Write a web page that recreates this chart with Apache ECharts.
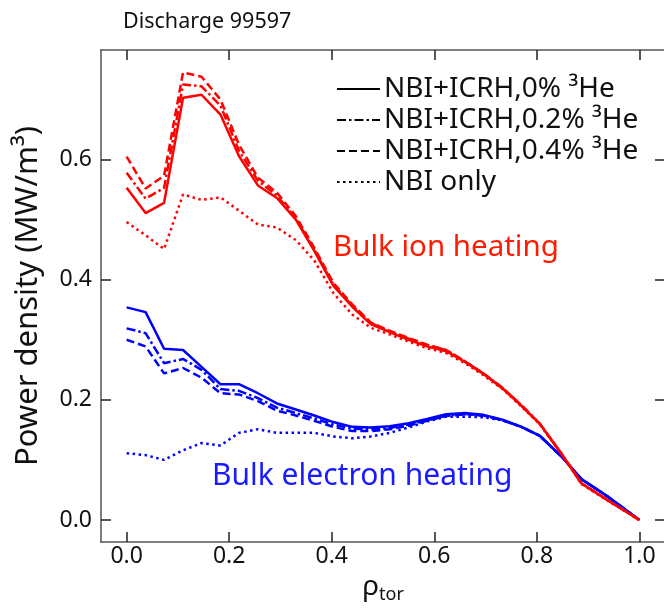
<!DOCTYPE html>
<html><head><meta charset="utf-8">
<script src="https://cdn.jsdelivr.net/npm/echarts@6/dist/echarts.min.js"></script>
<style>html,body{margin:0;padding:0;background:#fff}#c{width:664px;height:608px}</style>
</head><body><div id="c"></div>
<script>
// normalized toroidal radius
const rho = [0, 0.037, 0.073, 0.11, 0.146, 0.183, 0.219, 0.256, 0.293, 0.33, 0.366, 0.403, 0.44, 0.476, 0.513, 0.55, 0.586, 0.623, 0.66, 0.696, 0.733, 0.77, 0.806, 0.85, 0.887, 0.94, 1.0];
// bulk ion heating (MW/m3)
const ion0  = [0.553,0.511,0.528,0.703,0.708,0.675,0.606,0.557,0.536,0.500,0.448,0.390,0.355,0.326,0.313,0.300,0.289,0.281,0.263,0.243,0.219,0.190,0.160,0.108,0.061,0.032,0.0];
const ion02 = [0.578,0.535,0.553,0.725,0.722,0.690,0.615,0.565,0.540,0.502,0.450,0.392,0.357,0.328,0.314,0.302,0.291,0.283,0.264,0.244,0.220,0.191,0.160,0.108,0.061,0.032,0.0];
const ion04 = [0.605,0.552,0.573,0.745,0.738,0.700,0.625,0.570,0.545,0.506,0.453,0.395,0.359,0.329,0.315,0.303,0.292,0.283,0.264,0.244,0.220,0.191,0.160,0.108,0.061,0.032,0.0];
const ionNBI= [0.496,0.474,0.451,0.542,0.533,0.537,0.515,0.492,0.487,0.466,0.432,0.378,0.342,0.320,0.309,0.297,0.286,0.278,0.261,0.241,0.218,0.189,0.159,0.107,0.060,0.031,0.0];
// bulk electron heating (MW/m3)
const el0   = [0.354,0.346,0.285,0.283,0.255,0.226,0.226,0.211,0.194,0.184,0.174,0.163,0.155,0.154,0.156,0.161,0.168,0.176,0.178,0.175,0.167,0.155,0.140,0.104,0.068,0.038,0.0];
const el02  = [0.319,0.311,0.261,0.268,0.250,0.218,0.215,0.203,0.187,0.178,0.169,0.159,0.152,0.151,0.153,0.159,0.166,0.174,0.176,0.174,0.166,0.155,0.140,0.104,0.068,0.038,0.0];
const el04  = [0.300,0.289,0.244,0.253,0.237,0.211,0.209,0.198,0.182,0.174,0.165,0.155,0.148,0.148,0.151,0.157,0.165,0.173,0.176,0.174,0.166,0.155,0.140,0.104,0.068,0.038,0.0];
const elNBI = [0.111,0.108,0.100,0.116,0.128,0.124,0.145,0.151,0.145,0.145,0.145,0.139,0.136,0.139,0.145,0.154,0.164,0.172,0.172,0.171,0.166,0.155,0.140,0.104,0.068,0.038,0.0];
const xTicks = [0, 0.2, 0.4, 0.6, 0.8, 1.0];
const yTicks = [0, 0.2, 0.4, 0.6];
const legendNames = ['NBI+ICRH,0% ³He', 'NBI+ICRH,0.2% ³He', 'NBI+ICRH,0.4% ³He', 'NBI only'];

const FONT = '"Noto Sans", "DejaVu Sans", sans-serif';
const RED = '#ff0000', BLUE = '#0000ff';
const styles = ['solid', [9,3,2.5,3], [8,4], [2.5,3.5]];
const pairs = v => rho.map((x,i)=>[x, v[i]]);

const series = [];
[elNBI, el04, el02, el0].forEach((v,k)=>{
  const idx = 3-k;
  series.push({type:'line', data:pairs(v), symbol:'none', color:BLUE,
    lineStyle:{color:BLUE, width:2.5, type:styles[idx]}, silent:true, z:2});
});
[ionNBI, ion04, ion02, ion0].forEach((v,k)=>{
  const idx = 3-k;
  series.push({type:'line', data:pairs(v), symbol:'none', color:RED,
    lineStyle:{color:RED, width:2.5, type:styles[idx]}, silent:true, z:3});
});
legendNames.forEach((n,i)=>{
  series.push({type:'line', name:n, data:[], symbol:'none', showSymbol:false, color:'#000',
    lineStyle:{color:'#000', width:2, type:styles[i]}});
});

const axisLine = {show:true, onZero:false, lineStyle:{color:'#555', width:1.5}};
const tick = {show:true, inside:true, length:10, lineStyle:{color:'#222', width:1.5}};

const chart = echarts.init(document.getElementById('c'), null, {renderer:'canvas'});
chart.setOption({
  animation:false,
  backgroundColor:'#fff',
  grid:{left:101, top:50, width:564, height:492, containLabel:false, outerBoundsMode:'none'},
  xAxis:[{type:'value', min:-0.05, max:1.05, position:'bottom',
    axisLine, axisTick:Object.assign({customValues:xTicks}, tick),
    axisLabel:{customValues:xTicks, formatter:v=>v.toFixed(1), fontFamily:FONT, fontSize:23, color:'#111', margin:3},
    splitLine:{show:false},
    name:'{r|ρ}{s|tor}', nameLocation:'middle', nameGap:25,
    nameTextStyle:{rich:{r:{fontFamily:FONT, fontSize:28, color:'#111'}, s:{fontFamily:FONT, fontSize:18, color:'#111', padding:[16,0,0,0]}}}
  },{type:'value', min:-0.05, max:1.05, position:'top',
    axisLine, axisTick:Object.assign({customValues:xTicks}, tick),
    axisLabel:{show:false}, splitLine:{show:false}}],
  yAxis:[{type:'value', min:-0.0367, max:0.7825, position:'left',
    axisLine, axisTick:Object.assign({customValues:yTicks}, tick),
    axisLabel:{customValues:yTicks, formatter:v=>v.toFixed(1), fontFamily:FONT, fontSize:23, color:'#111', margin:9},
    splitLine:{show:false},
    name:'Power density (MW/m³)', nameLocation:'middle', nameGap:57, nameRotate:90,
    nameTextStyle:{fontFamily:FONT, fontSize:31, color:'#111'}
  },{type:'value', min:-0.0367, max:0.7825, position:'right',
    axisLine, axisTick:Object.assign({customValues:yTicks}, tick),
    axisLabel:{show:false}, splitLine:{show:false}}],
  legend:{show:true, orient:'vertical', left:331, top:70, itemWidth:43, itemHeight:14, itemGap:3,
    data:legendNames, selectedMode:false, itemStyle:{opacity:0},
    textStyle:{fontFamily:FONT, fontSize:28, lineHeight:27, color:'#111', padding:[0,0,0,-1]}},
  graphic:[
    {type:'text', x:123, y:22, style:{text:'Discharge 99597', font:'21.5px "Noto Sans"', fill:'#111', verticalAlign:'middle'}},
    {type:'text', x:333, y:248, style:{text:'Bulk ion heating', font:'29.5px "Noto Sans"', fill:'#ff1a00', verticalAlign:'middle'}},
    {type:'text', x:212, y:476, style:{text:'Bulk electron heating', font:'30px "Noto Sans"', fill:'#1a1aff', verticalAlign:'middle'}}
  ],
  series
});
</script></body></html>
